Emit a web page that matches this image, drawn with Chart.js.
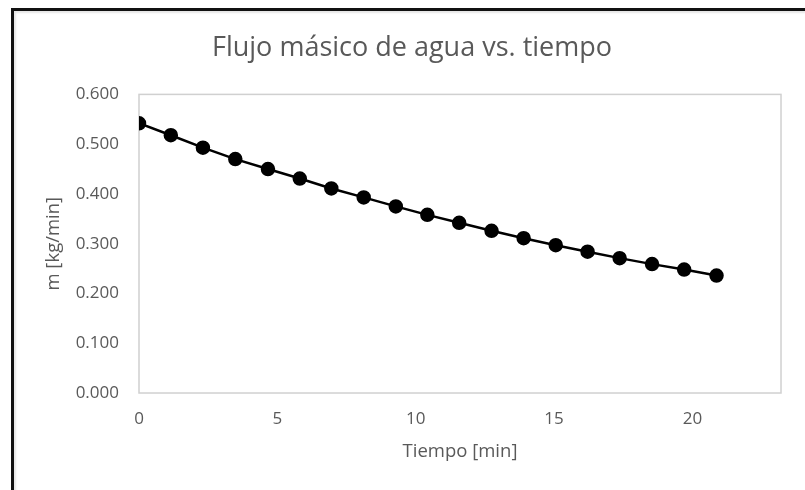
<!DOCTYPE html>
<html>
<head>
<meta charset="utf-8">
<script src="https://cdn.jsdelivr.net/npm/chart.js@4.4.1/dist/chart.umd.min.js"></script>
<style>
    html, body { margin: 0; padding: 0; background: #fff; }
    #lienzo { position: relative; width: 805px; height: 490px; overflow: hidden; }
    #lienzo canvas { position: absolute; left: 0; top: 0; }
    .marco {
        position: absolute; left: 11px; top: 8px; right: -10px; bottom: -10px;
        border-top: 3px solid #111; border-left: 3px solid #111;
        box-shadow: inset 2px 2px 2px rgba(0,0,0,0.10);
        pointer-events: none;
    }
</style>
</head>
<body>
<div id="lienzo">
    <canvas id="flujoChart" width="805" height="490"></canvas>
    <div class="marco"></div>
</div>
<script>
// Datos
const tiempos = [0, 1.15, 2.31, 3.48, 4.66, 5.81, 6.95, 8.12, 9.28, 10.42, 11.57, 12.74, 13.90, 15.06, 16.21, 17.37, 18.54, 19.70, 20.87];
const flujos = [0.542, 0.518, 0.493, 0.470, 0.450, 0.431, 0.411, 0.393, 0.375, 0.358, 0.342, 0.326, 0.311, 0.297, 0.284, 0.271, 0.259, 0.248, 0.236];
const ticksY = [0, 0.1, 0.2, 0.3, 0.4, 0.5, 0.6];
const ticksX = [0, 5, 10, 15, 20];

const gris = '#595959';
const fuente = "'Open Sans', 'Noto Sans', sans-serif";

// Borde del área de trazado
const bordeArea = {
    id: 'bordeArea',
    beforeDatasetsDraw(chart) {
        const { ctx, chartArea: a } = chart;
        ctx.save();
        ctx.strokeStyle = '#d0d0d0';
        ctx.lineWidth = 1.5;
        ctx.strokeRect(a.left, a.top, a.right - a.left, a.bottom - a.top);
        ctx.restore();
    }
};

new Chart(document.getElementById('flujoChart'), {
    type: 'scatter',
    data: {
        datasets: [{
            label: 'Flujo másico',
            data: tiempos.map((t, i) => ({ x: t, y: flujos[i] })),
            showLine: true,
            borderColor: '#000',
            borderWidth: 2.5,
            pointBackgroundColor: '#000',
            pointBorderColor: '#000',
            pointRadius: 6,
            pointHoverRadius: 6
        }]
    },
    options: {
        responsive: false,
        animation: false,
        layout: { padding: { left: 43, right: 24, top: 0, bottom: 0 } },
        plugins: {
            legend: { display: false },
            tooltip: { enabled: false },
            title: {
                display: true,
                text: 'Flujo másico de agua vs. tiempo',
                color: gris,
                font: { family: fuente, size: 27, weight: 'normal' },
                padding: { top: 32, bottom: 30 }
            }
        },
        scales: {
            x: {
                type: 'linear',
                min: 0,
                max: 23.2,
                grid: { display: false, drawTicks: false },
                border: { display: false },
                afterBuildTicks: s => { s.ticks = ticksX.map(v => ({ value: v })); },
                afterFit: s => { s.height = 97; },
                ticks: {
                    color: gris,
                    padding: 16,
                    font: { family: fuente, size: 17 },
                    callback: v => v
                },
                title: {
                    display: true,
                    text: 'Tiempo [min]',
                    color: gris,
                    font: { family: fuente, size: 18.5 },
                    padding: { top: 0, bottom: 27 }
                }
            },
            y: {
                min: 0,
                max: 0.6,
                grid: { display: false, drawTicks: false },
                border: { display: false },
                afterBuildTicks: s => { s.ticks = ticksY.map(v => ({ value: v })); },
                afterFit: s => { s.width = 96; },
                ticks: {
                    color: gris,
                    padding: 20,
                    font: { family: fuente, size: 17 },
                    callback: v => v.toFixed(3)
                },
                title: {
                    display: true,
                    text: 'm [kg/min]',
                    color: gris,
                    font: { family: fuente, size: 18.5 },
                    padding: { top: 0, bottom: 0 }
                }
            }
        }
    },
    plugins: [bordeArea]
});
</script>
</body>
</html>
